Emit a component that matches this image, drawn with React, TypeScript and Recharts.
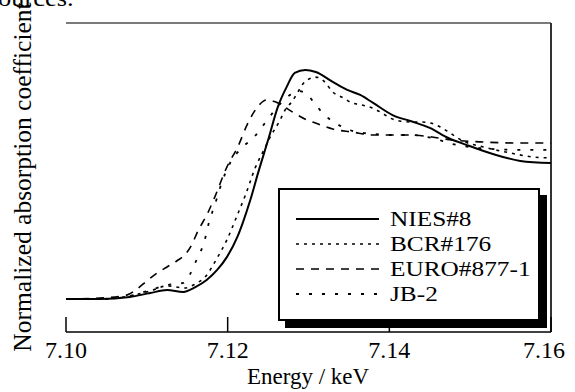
import React from "react";
import { LineChart, Line, XAxis, YAxis, Legend, ReferenceLine } from "recharts";

// energies in keV, normalized absorption (edge peak of NIES#8 = 1)
const niesEnergy = [7.1, 7.1042, 7.1079, 7.1104, 7.1125, 7.1145, 7.116, 7.1174, 7.1187, 7.1199, 7.1212, 7.1219, 7.1228, 7.1238, 7.125, 7.1262, 7.1273, 7.1283, 7.1296, 7.1309, 7.133, 7.1348, 7.1364, 7.138, 7.1404, 7.1426, 7.145, 7.1473, 7.1496, 7.1528, 7.1562, 7.16];
const niesValue = [0, 0, 0.009, 0.026, 0.039, 0.031, 0.052, 0.083, 0.127, 0.183, 0.271, 0.336, 0.432, 0.555, 0.694, 0.838, 0.926, 0.987, 1.0, 0.991, 0.948, 0.913, 0.891, 0.856, 0.803, 0.777, 0.747, 0.703, 0.672, 0.633, 0.603, 0.594];

const bcrEnergy = [7.1, 7.1042, 7.1079, 7.1104, 7.1125, 7.1147, 7.116, 7.1172, 7.1187, 7.1199, 7.1212, 7.1222, 7.1234, 7.1246, 7.1252, 7.1265, 7.1271, 7.128, 7.1287, 7.1293, 7.1301, 7.1307, 7.1314, 7.132, 7.133, 7.1343, 7.1354, 7.1366, 7.1379, 7.1391, 7.1401, 7.1413, 7.1426, 7.1438, 7.145, 7.1463, 7.1475, 7.1491, 7.1516, 7.1549, 7.1578, 7.16];
const bcrValue = [0, 0, 0.013, 0.035, 0.057, 0.048, 0.066, 0.096, 0.179, 0.258, 0.367, 0.454, 0.572, 0.659, 0.703, 0.782, 0.825, 0.864, 0.904, 0.939, 0.961, 0.969, 0.965, 0.948, 0.904, 0.878, 0.856, 0.847, 0.834, 0.812, 0.79, 0.777, 0.773, 0.773, 0.769, 0.751, 0.725, 0.69, 0.664, 0.638, 0.62, 0.616];

const euroEnergy = [7.1, 7.1042, 7.1075, 7.1088, 7.11, 7.1113, 7.1125, 7.1137, 7.1148, 7.1156, 7.1162, 7.1176, 7.1184, 7.1199, 7.1213, 7.1224, 7.1238, 7.1248, 7.1259, 7.127, 7.128, 7.1298, 7.1312, 7.133, 7.1354, 7.138, 7.1403, 7.1426, 7.1453, 7.1478, 7.1512, 7.1562, 7.16];
const euroValue = [0, 0.004, 0.017, 0.044, 0.079, 0.114, 0.14, 0.166, 0.197, 0.24, 0.288, 0.38, 0.445, 0.576, 0.668, 0.76, 0.843, 0.869, 0.861, 0.839, 0.817, 0.782, 0.764, 0.742, 0.729, 0.716, 0.716, 0.716, 0.707, 0.694, 0.686, 0.681, 0.681];

const jbEnergy = [7.1, 7.1042, 7.1079, 7.1104, 7.1125, 7.1145, 7.1153, 7.1162, 7.1171, 7.1177, 7.1184, 7.1193, 7.1203, 7.1215, 7.1234, 7.1249, 7.1265, 7.1277, 7.1287, 7.1296, 7.1309, 7.132, 7.1333, 7.1354, 7.1379, 7.1403, 7.1426, 7.1453, 7.1478, 7.1512, 7.1562, 7.16];
const jbValue = [0, 0, 0.013, 0.039, 0.061, 0.07, 0.105, 0.175, 0.249, 0.336, 0.41, 0.511, 0.594, 0.651, 0.712, 0.782, 0.852, 0.891, 0.908, 0.9, 0.847, 0.803, 0.769, 0.734, 0.721, 0.716, 0.716, 0.703, 0.677, 0.659, 0.651, 0.651];

const energyTicks = [7.1, 7.12, 7.14, 7.16];
const yMin = -0.144;
const yMax = 1.205;

const toPoints = (es: number[], vs: number[]) => es.map((e, i) => ({ e, v: vs[i] }));

const series = [
  { name: "NIES#8", data: toPoints(niesEnergy, niesValue), dash: undefined, width: 2 },
  { name: "BCR#176", data: toPoints(bcrEnergy, bcrValue), dash: "3 5", width: 1.6 },
  { name: "EURO#877-1", data: toPoints(euroEnergy, euroValue), dash: "8 7", width: 1.6 },
  { name: "JB-2", data: toPoints(jbEnergy, jbValue), dash: "3 10", width: 1.8 },
];

const serif = "'Liberation Serif', 'Times New Roman', serif";

function EnergyTick({ x, y, payload, index }: any) {
  const last = index === energyTicks.length - 1;
  return (
    <g>
      <line x1={x} x2={x} y1={y} y2={y - 15} stroke="#000" strokeWidth={1.5} />
      <text
        x={last ? x + 14 : x}
        y={y + 26}
        textAnchor={last ? "end" : "middle"}
        fontSize={24}
        fontFamily={serif}
        fill="#000"
      >
        {Number(payload.value).toFixed(2)}
      </text>
    </g>
  );
}

function BoxLegend() {
  return (
    <div
      style={{
        width: 258,
        height: 113,
        border: "2px solid #000",
        boxShadow: "7px 7px 0 #000",
        background: "#fff",
        fontFamily: serif,
        fontSize: 22,
        color: "#000",
        paddingTop: 16,
        boxSizing: "content-box",
      }}
    >
      {series.map((s) => (
        <div key={s.name} style={{ display: "flex", alignItems: "center", height: 25 }}>
          <svg width={100} height={10} style={{ marginLeft: 16, flex: "none" }}>
            <line x1={0} x2={83} y1={5} y2={5} stroke="#000" strokeWidth={s.width} strokeDasharray={s.dash} />
          </svg>
          <span
            style={{
              lineHeight: "25px",
              marginLeft: -6,
              display: "inline-block",
              transform: "scaleX(1.15)",
              transformOrigin: "left center",
              whiteSpace: "nowrap",
            }}
          >
            {s.name}
          </span>
        </div>
      ))}
    </div>
  );
}

export default function App() {
  return (
    <div style={{ position: "absolute", left: 0, top: 0, width: 575, height: 392, background: "#fff" }}>
      <div
        style={{
          position: "absolute",
          left: -2,
          top: -15,
          fontFamily: serif,
          fontSize: 24,
          whiteSpace: "nowrap",
          transform: "scaleX(1.1)",
          transformOrigin: "left top",
        }}
      >
        ources.
      </div>
      <div
        style={{
          position: "absolute",
          left: 23,
          top: 177,
          transform: "translate(-50%, -50%) rotate(-90deg)",
          fontFamily: serif,
          fontSize: 25.5,
          whiteSpace: "nowrap",
        }}
      >
        Normalized absorption coefficient
      </div>
      <div
        style={{
          position: "absolute",
          left: 308,
          top: 377,
          transform: "translate(-50%, -50%)",
          fontFamily: serif,
          fontSize: 23,
          whiteSpace: "nowrap",
        }}
      >
        Energy / keV
      </div>
      <LineChart width={575} height={392} margin={{ top: 23, right: 24, bottom: 0, left: 66 }}>
        <XAxis
          type="number"
          dataKey="e"
          domain={[7.1, 7.16]}
          ticks={energyTicks}
          allowDataOverflow
          height={60}
          tickSize={0}
          tickMargin={0}
          tickLine={false}
          axisLine={{ stroke: "#000", strokeWidth: 1.5 }}
          tick={<EnergyTick />}
        />
        <YAxis
          type="number"
          dataKey="v"
          domain={[yMin, yMax]}
          allowDataOverflow
          width={0}
          tick={false}
          tickLine={false}
          axisLine={{ stroke: "#7a7a7a", strokeWidth: 2 }}
        />
        <ReferenceLine y={yMax} stroke="#7a7a7a" strokeWidth={2} ifOverflow="visible" />
        <ReferenceLine x={7.16} stroke="#333" strokeWidth={2} ifOverflow="visible" />
        {series.map((s) => (
          <Line
            key={s.name}
            data={s.data}
            dataKey="v"
            name={s.name}
            type="monotone"
            stroke="#000"
            strokeWidth={s.width}
            strokeDasharray={s.dash}
            dot={false}
            isAnimationActive={false}
          />
        ))}
        <Legend
          layout="horizontal"
          verticalAlign="middle"
          align="center"
          wrapperStyle={{ position: "absolute", left: 278, top: 188, width: "auto", height: "auto" }}
          content={<BoxLegend />}
        />
      </LineChart>
    </div>
  );
}
